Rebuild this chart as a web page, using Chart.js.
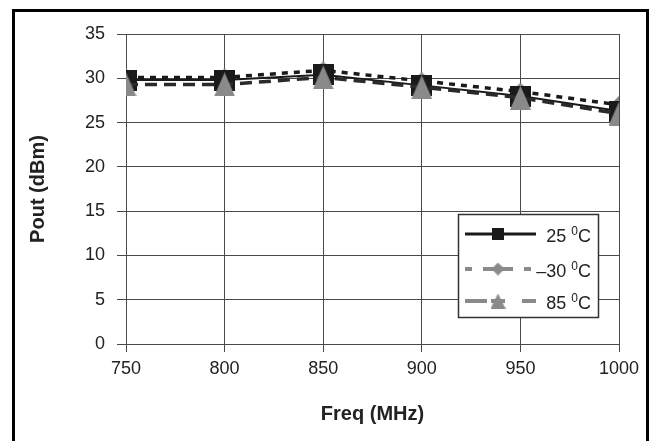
<!DOCTYPE html>
<html>
<head>
<meta charset="utf-8">
<script src="https://cdn.jsdelivr.net/npm/chart.js@4.4.1/dist/chart.umd.min.js"></script>
<style>
  html, body { margin: 0; padding: 0; background: #fff; }
  #wrap { width: 649px; height: 441px; }
</style>
</head>
<body>
<div id="wrap"><canvas id="chart" width="649" height="441"></canvas></div>
<script>
// data
const freqs = [750, 800, 850, 900, 950, 1000];
const pout25 = [29.8, 29.8, 30.4, 29.2, 28.0, 26.3];
const poutMinus30 = [30.1, 30.1, 30.9, 29.7, 28.5, 27.0];
const pout85 = [29.3, 29.3, 30.1, 29.0, 27.8, 26.0];
const tempLabels = ['25', '\u201330', '85'];
const yMin = 0, yMax = 35, yStep = 5;
const xMin = 750, xMax = 1000, xStep = 50;

const FONT = '"Liberation Sans", Arial, sans-serif';
const BLACK = '#1a1a1a';
const GRAY = '#8a8a8a';
const GRID = '#4a4a4a';

function marker(w, h, color, shape) {
    const c = document.createElement('canvas');
    c.width = w; c.height = h;
    const g = c.getContext('2d');
    g.fillStyle = color;
    g.beginPath();
    if (shape === 'tri') {
        g.moveTo(w / 2, 0); g.lineTo(w, h); g.lineTo(0, h);
    } else if (shape === 'dia') {
        g.moveTo(w / 2, 0); g.lineTo(w, h / 2); g.lineTo(w / 2, h); g.lineTo(0, h / 2);
    } else {
        g.rect(0, 0, w, h);
    }
    g.closePath();
    g.fill();
    return c;
}

const pts = (ys) => freqs.map((f, i) => ({ x: f, y: ys[i] }));

// legend drawn by hand: line with a marker in the middle, like the original
const legendBox = {
    id: 'legendBox',
    afterDraw(chart) {
        const ctx = chart.ctx;
        ctx.save();
        ctx.fillStyle = '#fff';
        ctx.fillRect(458, 214, 141, 104);
        ctx.strokeStyle = '#333';
        ctx.lineWidth = 1.5;
        ctx.strokeRect(458.5, 214.5, 140, 103);
        const rows = [
            { segs: [[465, 536]], color: BLACK, width: 3, mk: marker(12, 12, BLACK, 'rect') },
            { segs: [[465, 472], [483, 513], [524, 531]], color: GRAY, width: 4, mk: marker(13, 13, GRAY, 'dia') },
            { segs: [[465, 487], [491, 505], [522, 536]], color: GRAY, width: 4, mk: marker(15, 15, GRAY, 'tri') }
        ];
        const ys = [234, 269, 301];
        rows.forEach((r, i) => {
            const y = ys[i];
            ctx.strokeStyle = r.color;
            ctx.lineWidth = r.width;
            ctx.beginPath();
            r.segs.forEach(([a, b]) => { ctx.moveTo(a, y); ctx.lineTo(b, y); });
            ctx.stroke();
            ctx.drawImage(r.mk, 498 - r.mk.width / 2, y - r.mk.height / 2);

            // "25 °C" with a raised 0
            const big = '18px ' + FONT, small = '12px ' + FONT;
            ctx.fillStyle = '#222';
            ctx.textBaseline = 'alphabetic';
            ctx.font = big;
            const t1 = tempLabels[i] + ' ';
            const w1 = ctx.measureText(t1).width, w3 = ctx.measureText('C').width;
            ctx.font = small;
            const w2 = ctx.measureText('0').width;
            let x = 591 - (w1 + w2 + w3);
            ctx.font = big;
            ctx.fillText(t1, x, y + 8);
            ctx.font = small;
            ctx.fillText('0', x + w1, y + 1);
            ctx.font = big;
            ctx.fillText('C', x + w1 + w2, y + 8);
        });
        ctx.restore();
    }
};

// outer frame around the whole figure
const frame = {
    id: 'frame',
    afterDraw(chart) {
        const ctx = chart.ctx;
        ctx.save();
        ctx.strokeStyle = '#000';
        ctx.lineWidth = 3;
        ctx.strokeRect(13.5, 10.5, 634, 500);
        ctx.restore();
    }
};

new Chart(document.getElementById('chart'), {
    type: 'line',
    data: {
        datasets: [{
            label: '25 C',
            data: pts(pout25),
            borderColor: BLACK,
            borderWidth: 2,
            pointStyle: marker(21, 21, BLACK, 'rect'),
            order: 1
        }, {
            label: '-30 C',
            data: pts(poutMinus30),
            borderColor: BLACK,
            borderWidth: 3.5,
            borderDash: [6, 6],
            pointStyle: marker(18, 18, GRAY, 'dia'),
            order: 2
        }, {
            label: '85 C',
            data: pts(pout85),
            borderColor: '#2a2a2a',
            borderWidth: 3.5,
            borderDash: [12, 7],
            pointStyle: marker(21, 24, GRAY, 'tri'),
            order: 0
        }]
    },
    options: {
        responsive: false,
        animation: false,
        layout: { padding: { left: 16, top: 34, right: 30, bottom: 0 } },
        plugins: { legend: { display: false }, tooltip: { enabled: false } },
        scales: {
            x: {
                type: 'linear',
                min: xMin, max: xMax,
                afterFit: (s) => { s.height = 97; },
                ticks: { stepSize: xStep, padding: 6, color: '#222', font: { family: FONT, size: 18 },
                         callback: (v) => String(v) },
                grid: { color: GRID, tickLength: 8, tickColor: GRID },
                border: { color: GRID },
                title: { display: true, text: 'Freq (MHz)', color: '#222', padding: { top: 0, bottom: 15 },
                         font: { family: FONT, size: 20, weight: 'bold' } }
            },
            y: {
                min: yMin, max: yMax,
                afterFit: (s) => { s.width = 110; },
                ticks: { stepSize: yStep, padding: 12, color: '#222', font: { family: FONT, size: 18 } },
                grid: { color: GRID, tickLength: 9, tickColor: GRID },
                border: { color: GRID },
                title: { display: true, text: 'Pout (dBm)', color: '#222', padding: { top: 10, bottom: 0 },
                         font: { family: FONT, size: 20, weight: 'bold' } }
            }
        }
    },
    plugins: [legendBox, frame]
});
</script>
</body>
</html>
